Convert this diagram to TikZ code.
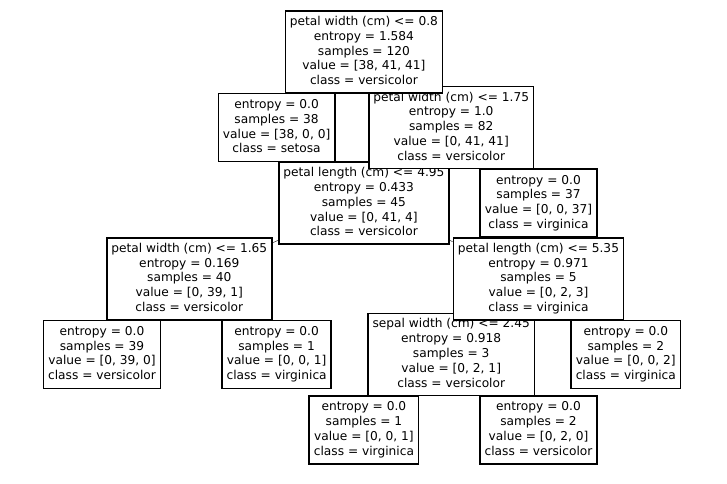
\documentclass[tikz,border=0pt]{standalone}
\usepackage{fontspec}
\setmainfont{DejaVu Sans}
\pgfdeclarelayer{background}
\pgfsetlayers{background,main}
\newcommand\lnstrut{\rule[-2.9pt]{0pt}{12.4pt}}
\begin{document}
\begin{tikzpicture}[x=87.3pt, y=-75.6pt,
  box/.style={draw, line width=1.6pt, fill=white, align=center,
    inner xsep=4.6pt, inner ysep=0pt,
    font=\fontsize{12.2}{14.8}\selectfont,
    execute at begin node=\lnstrut, execute at end node=\lnstrut},
  split/.style={box, minimum height=82pt},
  leaf/.style={box, minimum height=68pt}]
\useasboundingbox (-102pt,52pt) rectangle (625pt,-431pt);
% deepest boxes first, so each parent lies on top of its children
\node[leaf] (nid9) at (3,5){entropy = 0.0\\samples = 1\\value = [0, 0, 1]\\class = virginica};
\node[leaf] (nid10) at (5,5){entropy = 0.0\\samples = 2\\value = [0, 2, 0]\\class = versicolor};
\node[leaf] (nid5) at (0,4){entropy = 0.0\\samples = 39\\value = [0, 39, 0]\\class = versicolor};
\node[leaf] (nid6) at (2,4){entropy = 0.0\\samples = 1\\value = [0, 0, 1]\\class = virginica};
\node[split] (nid8) at (4,4){sepal width (cm) <= 2.45\\entropy = 0.918\\samples = 3\\value = [0, 2, 1]\\class = versicolor};
\node[leaf] (nid11) at (6,4){entropy = 0.0\\samples = 2\\value = [0, 0, 2]\\class = virginica};
\node[split] (nid4) at (1,3){petal width (cm) <= 1.65\\entropy = 0.169\\samples = 40\\value = [0, 39, 1]\\class = versicolor};
\node[split] (nid7) at (5,3){petal length (cm) <= 5.35\\entropy = 0.971\\samples = 5\\value = [0, 2, 3]\\class = virginica};
\node[split] (nid3) at (3,2){petal length (cm) <= 4.95\\entropy = 0.433\\samples = 45\\value = [0, 41, 4]\\class = versicolor};
\node[leaf] (nid12) at (5,2){entropy = 0.0\\samples = 37\\value = [0, 0, 37]\\class = virginica};
\node[leaf] (nid1) at (2,1){entropy = 0.0\\samples = 38\\value = [38, 0, 0]\\class = setosa};
\node[split] (nid2) at (4,1){petal width (cm) <= 1.75\\entropy = 1.0\\samples = 82\\value = [0, 41, 41]\\class = versicolor};
\node[split] (nid0) at (3,0){petal width (cm) <= 0.8\\entropy = 1.584\\samples = 120\\value = [38, 41, 41]\\class = versicolor};
\begin{pgfonlayer}{background}
\draw[](nid0) -- (nid1);
\draw[](nid0) -- (nid2);
\draw[](nid2) -- (nid3);
\draw[](nid2) -- (nid12);
\draw[](nid3) -- (nid4);
\draw[](nid3) -- (nid7);
\draw[](nid4) -- (nid5);
\draw[](nid4) -- (nid6);
\draw[](nid7) -- (nid8);
\draw[](nid7) -- (nid11);
\draw[](nid8) -- (nid9);
\draw[](nid8) -- (nid10);
\end{pgfonlayer}
\end{tikzpicture}
\end{document}
